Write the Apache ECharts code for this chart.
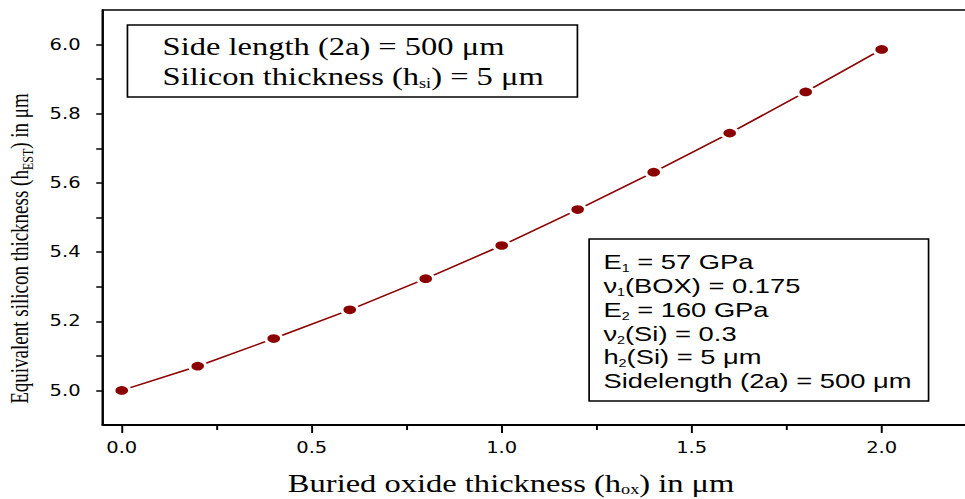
<!DOCTYPE html>
<html>
<head>
<meta charset="utf-8">
<script src="https://cdn.jsdelivr.net/npm/echarts@6/dist/echarts.min.js"></script>
<style>
  html, body { margin: 0; padding: 0; background: #fff; overflow: hidden; }
  #wrap { width: 965px; height: 499px; overflow: hidden; }
  #chart { width: 742px; height: 499px; transform: scale(1.3005, 1); transform-origin: 0 0; }
</style>
</head>
<body>
<div id="wrap"><div id="chart"></div></div>
<script>
// ---- data ----
const xValues = [0.0, 0.2, 0.4, 0.6, 0.8, 1.0, 1.2, 1.4, 1.6, 1.8, 2.0];
const yValues = [5.0, 5.07, 5.15, 5.233, 5.323, 5.419, 5.523, 5.631, 5.744, 5.863, 5.986];
const xTickLabels = [0.0, 0.5, 1.0, 1.5, 2.0];
const xMinorTicks = [0.25, 0.75, 1.25, 1.75, 2.25];
const yTickLabels = [5.0, 5.2, 5.4, 5.6, 5.8, 6.0];
const yTicks = [5.0, 5.1, 5.2, 5.3, 5.4, 5.5, 5.6, 5.7, 5.8, 5.9, 6.0];
const box1Lines = ['{a|Side length (2a) = 500 μm}', '{a|Silicon thickness (h}{s|si}{a|) = 5 μm}'];
const box2Lines = [
  '{a|E}{s|1}{a| = 57 GPa}',
  '{a|ν}{s|1}{a|(BOX) = 0.175}',
  '{a|E}{s|2}{a| = 160 GPa}',
  '{a|ν}{s|2}{a|(Si) = 0.3}',
  '{a|h}{s|2}{a|(Si) = 5 μm}',
  '{a|Sidelength (2a) = 500 μm}'
];

const chart = echarts.init(document.getElementById('chart'), null, { renderer: 'svg' });
const serif = 'Liberation Serif';
const sans = 'Liberation Sans';

const option = {
  animation: false,
  backgroundColor: '#fff',
  grid: {
    left: 79, top: 10, width: 672, height: 415,
    outerBoundsMode: 'none', containLabel: false,
    show: true, borderColor: '#000', borderWidth: 1.5, backgroundColor: 'transparent'
  },
  xAxis: [{
    type: 'value', min: -0.05, max: 2.25,
    axisLine: { show: true, onZero: false, lineStyle: { color: '#000', width: 2 } },
    axisTick: { show: true, length: 8, customValues: xTickLabels, lineStyle: { color: '#000', width: 1.5 } },
    axisLabel: {
      customValues: xTickLabels, margin: 15, color: '#000',
      fontFamily: 'DejaVu Sans', fontSize: 15,
      formatter: v => v.toFixed(1)
    },
    splitLine: { show: false },
    name: '{a|Buried oxide thickness (h}{s|ox}{a|) in μm}',
    nameLocation: 'middle', nameGap: 44,
    nameTextStyle: {
      padding: [0, 44, 0, 0],
      rich: {
        a: { fontFamily: serif, fontSize: 25, color: '#000', lineHeight: 28 },
        s: { fontFamily: serif, fontSize: 14, color: '#000', verticalAlign: 'bottom', lineHeight: 14 }
      }
    }
  }, {
    type: 'value', min: -0.05, max: 2.25, position: 'bottom',
    axisLine: { show: false },
    axisTick: { show: true, length: 5, customValues: xMinorTicks, lineStyle: { color: '#000', width: 1.5 } },
    axisLabel: { show: false },
    splitLine: { show: false }
  }],
  yAxis: {
    type: 'value', min: 4.9, max: 6.1,
    axisLine: { show: true, onZero: false, lineStyle: { color: '#000', width: 1.6 } },
    axisTick: { show: true, length: 5, customValues: yTicks, lineStyle: { color: '#000', width: 1.5 } },
    axisLabel: {
      customValues: yTickLabels, margin: 17, color: '#000',
      fontFamily: 'DejaVu Sans', fontSize: 15,
      formatter: v => v.toFixed(1)
    },
    splitLine: { show: false },
    name: '{a|Equivalent silicon thickness (h}{s|EST}{a|) in μm}',
    nameLocation: 'middle', nameGap: 50, nameRotate: 90,
    nameTextStyle: {
      padding: [0, 62, 0, 0],
      rich: {
        a: { fontFamily: serif, fontSize: 19, color: '#000', lineHeight: 24 },
        s: { fontFamily: serif, fontSize: 12, color: '#000', verticalAlign: 'bottom', lineHeight: 12 }
      }
    }
  },
  series: [{
    type: 'line',
    data: xValues.map((x, i) => [x, yValues[i]]),
    symbol: 'circle',
    symbolSize: [12.3, 11],
    showAllSymbol: true,
    lineStyle: { color: '#8B0000', width: 1.5 },
    itemStyle: { color: '#8B0000', borderColor: '#fff', borderWidth: 2.5 },
    z: 3
  }],
  graphic: [
    {
      type: 'rect', shape: { x: 98, y: 25, width: 346, height: 72 },
      style: { fill: '#fff', stroke: '#000', lineWidth: 1.3 }, z: 10
    },
    {
      type: 'text', x: 125, y: 31, z: 11,
      style: {
        text: box1Lines.join('\n'),
        rich: {
          a: { fontFamily: serif, fontSize: 25, fill: '#000', lineHeight: 30 },
          s: { fontFamily: serif, fontSize: 14, fill: '#000', verticalAlign: 'bottom', lineHeight: 18 }
        }
      }
    },
    {
      type: 'rect', shape: { x: 453, y: 239, width: 261, height: 162 },
      style: { fill: '#fff', stroke: '#000', lineWidth: 1.3 }, z: 10
    },
    {
      type: 'text', x: 464, y: 250, z: 11,
      style: {
        text: box2Lines.join('\n'),
        rich: {
          a: { fontFamily: sans, fontSize: 21, fill: '#000', lineHeight: 23.8 },
          s: { fontFamily: sans, fontSize: 11, fill: '#000', verticalAlign: 'bottom', lineHeight: 14 }
        }
      }
    }
  ]
};
chart.setOption(option);
</script>
</body>
</html>
